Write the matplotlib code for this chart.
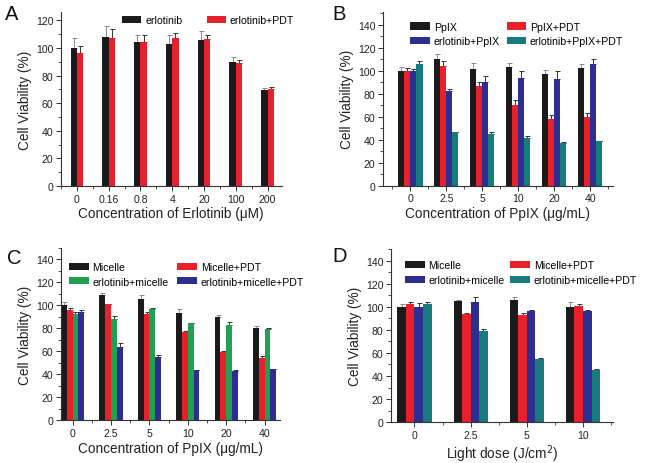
import matplotlib
matplotlib.use("Agg")
import matplotlib.pyplot as plt
import numpy as np
from matplotlib.ticker import MultipleLocator, FixedLocator

plt.rcParams['font.family'] = ['Liberation Sans', 'DejaVu Sans']

# Panel A
a_cats = ["0", "0.16", "0.8", "4", "20", "100", "200"]
a_erl = [100, 108, 104, 103, 105.5, 90, 69.5]
a_erl_err = [7.5, 8, 5, 6.5, 6.5, 3.5, 1.5]
a_pdt = [96, 107, 104.5, 107, 106.5, 89, 70]
a_pdt_err = [5.5, 6.5, 5, 3.5, 3, 2, 1.5]

# Panel B
b_cats = ["0", "2.5", "5", "10", "20", "40"]
b_ppix = [100, 110.5, 101.5, 103.5, 97, 102]
b_ppix_err = [3, 4, 5.5, 3, 3.5, 3.5]
b_ppix_pdt = [100, 104, 86.5, 70.5, 58, 60]
b_ppix_pdt_err = [2.5, 4, 4, 3.5, 3.5, 3.5]
b_erl_ppix = [100, 82, 90.5, 93.5, 93, 106]
b_erl_ppix_err = [1, 2, 5, 6, 6.5, 4.5]
b_erl_ppix_pdt = [105.5, 46.5, 45, 41.5, 37, 38.5]
b_erl_ppix_pdt_err = [3, 0.5, 2, 1.5, 0.5, 0.5]

# Panel C
c_cats = ["0", "2.5", "5", "10", "20", "40"]
c_mic = [100, 109, 105.5, 93.5, 90, 80]
c_mic_err = [2.5, 1.5, 3, 3, 1.5, 2]
c_mic_pdt = [96, 101, 92.5, 76.5, 59, 54]
c_mic_pdt_err = [1.5, 0.5, 1.5, 1.5, 1.5, 1.5]
c_erl_mic = [92.5, 88, 96.5, 84.5, 82.5, 79]
c_erl_mic_err = [1.5, 3, 1, 0.5, 3, 1]
c_erl_mic_pdt = [94, 64, 55, 43.5, 43, 44.5]
c_erl_mic_pdt_err = [1.5, 3, 1.5, 0.5, 0.5, 0.5]

# Panel D
d_cats = ["0", "2.5", "5", "10"]
d_mic = [100, 105, 105.5, 100]
d_mic_err = [2, 1, 3, 4]
d_mic_pdt = [102, 93.5, 92.5, 100.5]
d_mic_pdt_err = [2, 1.5, 2, 2]
d_erl_mic = [100, 104, 96.5, 96]
d_erl_mic_err = [3, 4.5, 1, 1.5]
d_erl_mic_pdt = [102, 79, 55, 45]
d_erl_mic_pdt_err = [2, 1.5, 1, 1.5]

BLACK = '#1c1a1b'
RED = '#e8202a'
BLUE = '#2e2e92'
TEAL = '#177a7c'
GREEN = '#21a052'

fig = plt.figure(figsize=(6.45, 4.64), dpi=100)

def panel(rect, cats, series, xlabel, ylim, xlim, width, leg_anchor, colspace, order):
    ax = fig.add_axes(rect)
    x = np.arange(len(cats))
    n = len(series)
    handles = []
    for i, (vals, errs, color, label) in enumerate(series):
        pos = x + (i - (n - 1) / 2) * width
        h = ax.bar(pos, vals, width=width, color=color, label=label, zorder=2)
        ecol = '#8a8a8a' if color == BLACK else '#333333'
        ax.errorbar(pos, vals, yerr=[np.zeros(len(errs)), errs], fmt='none',
                    ecolor=ecol, elinewidth=0.7, capsize=1.8, capthick=0.7, zorder=1)
        handles.append(h)
    ax.set_xlim(*xlim)
    ax.set_ylim(*ylim)
    ax.set_xticks(x)
    ax.set_xticklabels(cats)
    ax.xaxis.set_minor_locator(FixedLocator(np.arange(len(cats) + 1) - 0.5))
    ax.yaxis.set_major_locator(MultipleLocator(20))
    ax.yaxis.set_minor_locator(MultipleLocator(10))
    for s in ['top', 'right']:
        ax.spines[s].set_visible(False)
    for s in ['left', 'bottom']:
        ax.spines[s].set_linewidth(0.8)
        ax.spines[s].set_color('#333333')
    ax.tick_params(which='major', direction='out', length=3.5, width=0.7,
                   labelsize=7.6, colors='#333333', labelcolor='#222222', pad=2)
    ax.tick_params(which='minor', direction='out', length=2, width=0.6, colors='#333333')
    ax.set_ylabel("Cell Viability (%)", fontsize=9.8, color='#222222', labelpad=3)
    ax.set_xlabel(xlabel, fontsize=9.8, color='#222222', labelpad=2)
    hs = [handles[k] for k in order]
    ls = [series[k][3] for k in order]
    ax.legend(hs, ls, frameon=False, fontsize=7.6, ncol=2,
              loc='upper left', bbox_to_anchor=leg_anchor,
              handlelength=1.85, handleheight=0.65, handletextpad=0.35,
              labelspacing=0.45, borderaxespad=0.0, borderpad=0.0,
              columnspacing=colspace)
    return ax

panel([0.0946, 0.597, 0.342, 0.375], a_cats,
      [(a_erl, a_erl_err, BLACK, "erlotinib"), (a_pdt, a_pdt_err, RED, "erlotinib+PDT")],
      "Concentration of Erlotinib (\u03bcM)", (0, 126), (-0.5, 6.44), 0.2,
      (0.276, 0.98), 2.3, [0, 1])

panel([0.594, 0.598, 0.356, 0.374], b_cats,
      [(b_ppix, b_ppix_err, BLACK, "PpIX"), (b_ppix_pdt, b_ppix_pdt_err, RED, "PpIX+PDT"),
       (b_erl_ppix, b_erl_ppix_err, BLUE, "erlotinib+PpIX"),
       (b_erl_ppix_pdt, b_erl_ppix_pdt_err, TEAL, "erlotinib+PpIX+PDT")],
      "Concentration of PpIX (\u03bcg/mL)", (0, 151), (-0.76, 5.62), 0.167,
      (0.119, 0.944), 0.65, [0, 2, 1, 3])

panel([0.0946, 0.092, 0.339, 0.372], c_cats,
      [(c_mic, c_mic_err, BLACK, "Micelle"), (c_mic_pdt, c_mic_pdt_err, RED, "Micelle+PDT"),
       (c_erl_mic, c_erl_mic_err, GREEN, "erlotinib+micelle"),
       (c_erl_mic_pdt, c_erl_mic_pdt_err, BLUE, "erlotinib+micelle+PDT")],
      "Concentration of PpIX (\u03bcg/mL)", (0, 150), (-0.3, 5.39), 0.15,
      (0.037, 0.918), 0.85, [0, 2, 1, 3])

panel([0.606, 0.088, 0.344, 0.373], d_cats,
      [(d_mic, d_mic_err, BLACK, "Micelle"), (d_mic_pdt, d_mic_pdt_err, RED, "Micelle+PDT"),
       (d_erl_mic, d_erl_mic_err, BLUE, "erlotinib+micelle"),
       (d_erl_mic_pdt, d_erl_mic_pdt_err, TEAL, "erlotinib+micelle+PDT")],
      "Light dose (J/cm$^2$)", (0, 150), (-0.42, 3.53), 0.152,
      (0.064, 0.936), 0.57, [0, 2, 1, 3])

for txt, x, y in [("A", 0.008, 0.989), ("B", 0.516, 0.989), ("C", 0.011, 0.463), ("D", 0.516, 0.468)]:
    fig.text(x, y, txt, fontsize=14.5, va='top', ha='left', color='#111111')

fig.savefig("out.png", dpi=100)
